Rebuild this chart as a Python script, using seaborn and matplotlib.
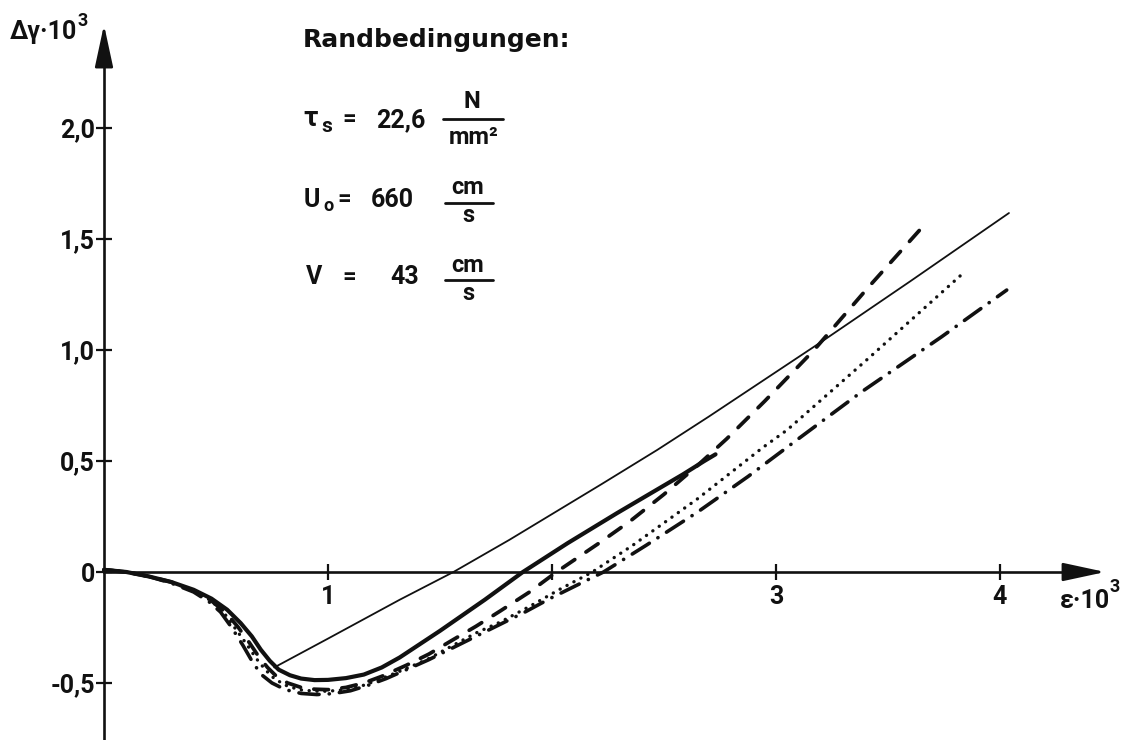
import numpy as np
import pandas as pd
import matplotlib
matplotlib.use("Agg")
import matplotlib.pyplot as plt
from matplotlib.lines import Line2D
import seaborn as sns

# strain eps*10^3 and shear change dgamma*10^3 for each computed variant
eps_thin = [0.76, 1.00, 1.32, 1.56, 1.81, 2.22, 2.47, 2.70, 3.20, 3.60, 4.04]
dg_thin = [-0.43, -0.30, -0.125, 0.0, 0.145, 0.395, 0.55, 0.70, 1.035, 1.31, 1.617]

eps_solid = [0.0, 0.10, 0.20, 0.30, 0.40, 0.48, 0.55, 0.61, 0.66, 0.70, 0.74,
             0.78, 0.83, 0.88, 0.94, 1.00, 1.08, 1.16, 1.24, 1.32, 1.41, 1.50,
             1.60, 1.70, 1.87, 2.07, 2.29, 2.45, 2.585, 2.68, 2.73]
dg_solid = [0.01, 0.0, -0.02, -0.045, -0.08, -0.12, -0.17, -0.23, -0.29, -0.35,
            -0.40, -0.44, -0.465, -0.48, -0.487, -0.486, -0.478, -0.462, -0.43,
            -0.385, -0.325, -0.265, -0.195, -0.125, 0.0, 0.13, 0.265, 0.36,
            0.44, 0.50, 0.53]

eps_dash = [0.0, 0.10, 0.20, 0.30, 0.40, 0.48, 0.55, 0.60, 0.65, 0.69, 0.73,
            0.77, 0.82, 0.88, 0.94, 1.00, 1.08, 1.16, 1.24, 1.35, 1.45, 1.55,
            1.66, 1.77, 1.90, 2.02, 2.21, 2.35, 2.50, 2.65, 2.78, 2.95, 3.17,
            3.41, 3.65]
dg_dash = [0.01, 0.0, -0.02, -0.045, -0.085, -0.13, -0.19, -0.25, -0.32, -0.38,
           -0.43, -0.47, -0.50, -0.52, -0.528, -0.53, -0.52, -0.50, -0.47,
           -0.42, -0.37, -0.31, -0.245, -0.175, -0.09, 0.0, 0.13, 0.23, 0.35,
           0.48, 0.60, 0.77, 1.00, 1.28, 1.55]

eps_dot = [0.0, 0.10, 0.20, 0.30, 0.40, 0.48, 0.54, 0.59, 0.64, 0.68, 0.72,
           0.76, 0.81, 0.87, 0.94, 1.00, 1.08, 1.16, 1.24, 1.35, 1.45, 1.55,
           1.66, 1.77, 1.90, 2.04, 2.18, 2.36, 2.65, 2.94, 3.05, 3.41, 3.84]
dg_dot = [0.01, 0.0, -0.02, -0.045, -0.085, -0.13, -0.19, -0.26, -0.33, -0.39,
          -0.44, -0.48, -0.51, -0.53, -0.537, -0.537, -0.53, -0.51, -0.48,
          -0.435, -0.39, -0.335, -0.275, -0.225, -0.155, -0.075, 0.0, 0.12,
          0.33, 0.56, 0.64, 0.96, 1.35]

eps_dashdot = [0.0, 0.10, 0.20, 0.30, 0.40, 0.47, 0.52, 0.57, 0.62, 0.66, 0.70,
               0.75, 0.81, 0.88, 0.95, 1.02, 1.10, 1.18, 1.26, 1.35, 1.45, 1.55,
               1.66, 1.77, 1.88, 1.99, 2.11, 2.23, 2.42, 2.65, 2.875, 3.10,
               3.38, 3.74, 4.03]
dg_dashdot = [0.01, 0.0, -0.02, -0.05, -0.09, -0.135, -0.18, -0.25, -0.33,
              -0.40, -0.46, -0.50, -0.53, -0.547, -0.552, -0.548, -0.535, -0.51,
              -0.48, -0.44, -0.395, -0.345, -0.29, -0.235, -0.18, -0.12, -0.06,
              0.0, 0.12, 0.27, 0.43, 0.60, 0.81, 1.06, 1.27]

x_ticks = [1, 2, 3, 4]
x_tick_labels = ["1", "", "3", "4"]
y_ticks = [-0.5, 0.0, 0.5, 1.0, 1.5, 2.0]
y_tick_labels = ["-0,5", "0", "0,5", "1,0", "1,5", "2,0"]

sns.set_style("white")
plt.rcParams["font.family"] = ["Roboto", "DejaVu Sans"]
plt.rcParams["font.weight"] = "bold"

W, H = 1132, 740
fig = plt.figure(figsize=(W / 100, H / 100), dpi=100)
fig.patch.set_facecolor("white")
ax = fig.add_axes([0, 0, 1, 1])
ax.set_facecolor("white")

X0, Y0, SX, SY = 104, 572, 224, 222
ax.set_xlim(-X0 / SX, (W - X0) / SX)
ax.set_ylim((Y0 - H) / SY, Y0 / SY)

INK = "#111111"

def draw(xs, ys, lw, ls):
    df = pd.DataFrame({"eps": xs, "dg": ys})
    sns.lineplot(data=df, x="eps", y="dg", ax=ax, color=INK, lw=lw,
                 linestyle=ls, estimator=None, sort=False,
                 dash_capstyle="round", solid_capstyle="round",
                 solid_joinstyle="round", dash_joinstyle="round")

draw(eps_thin, dg_thin, 1.3, "-")
draw(eps_dashdot, dg_dashdot, 2.6, (0, (5.6, 2.8, 0.05, 2.8)))
draw(eps_dot, dg_dot, 2.4, (0, (0.05, 2.3)))
draw(eps_dash, dg_dash, 2.7, (0, (3.9, 3.6)))
draw(eps_solid, dg_solid, 3.0, "-")

ax.set_xlabel("")
ax.set_ylabel("")

# axes through the origin with arrow heads
for s in ["top", "right"]:
    ax.spines[s].set_visible(False)
ax.spines["left"].set_position(("data", 0))
ax.spines["bottom"].set_position(("data", 0))
ax.spines["left"].set_bounds((Y0 - H) / SY, 2.36)
ax.spines["bottom"].set_bounds(0, 4.36)
for s in ["left", "bottom"]:
    ax.spines[s].set_linewidth(1.9)
    ax.spines[s].set_color(INK)

arrow = dict(arrowstyle="-|>,head_length=1.3,head_width=0.28",
             color=INK, lw=1.9, mutation_scale=20, shrinkA=0, shrinkB=0)
ax.annotate("", xy=(0, 2.465), xytext=(0, 2.30), arrowprops=arrow)
ax.annotate("", xy=(4.47, 0), xytext=(4.30, 0), arrowprops=arrow)

ax.set_xticks(x_ticks)
ax.set_xticklabels(x_tick_labels)
ax.set_yticks(y_ticks)
ax.set_yticklabels(y_tick_labels)
ax.tick_params(axis="both", direction="inout", length=11, width=1.6,
               color=INK, labelcolor=INK, labelsize=18,
               bottom=True, left=True, top=False, right=False)
ax.tick_params(axis="x", pad=4)
ax.tick_params(axis="y", pad=1)
for lab in ax.get_xticklabels() + ax.get_yticklabels():
    lab.set_fontweight("bold")

def ftxt(x, y, s, size=17, ha="left", va="center", **kw):
    fig.text(x / W, 1 - y / H, s, fontsize=size, ha=ha, va=va,
             fontweight="bold", color=INK, **kw)

def fbar(x1, x2, y):
    fig.add_artist(Line2D([x1 / W, x2 / W], [1 - y / H, 1 - y / H],
                          color=INK, lw=2.0, transform=fig.transFigure))

# axis titles
ftxt(10, 32, "Δγ·10", size=18)
ftxt(77, 21, "3", size=13)
ftxt(1060, 601, "ε·10", size=18)
ftxt(1110, 587, "3", size=13)

# boundary conditions
ftxt(303, 40, "Randbedingungen:", size=18, family=["DejaVu Sans"])

ftxt(303, 118, "τ", size=20)
ftxt(321, 127, "s", size=15)
ftxt(342, 120, "=", size=17)
ftxt(376, 120, "22,6", size=18)
ftxt(472, 102, "N", size=17, ha="center")
fbar(443, 503, 119)
ftxt(474, 137, "mm²", size=17, ha="center")

ftxt(304, 200, "U", size=18)
ftxt(323, 206, "o", size=13)
ftxt(337, 200, "=", size=17)
ftxt(371, 200, "660", size=18)
ftxt(468, 188, "cm", size=17, ha="center")
fbar(445, 493, 203)
ftxt(468, 216, "s", size=17, ha="center")

ftxt(306, 277, "V", size=18)
ftxt(342, 277, "=", size=17)
ftxt(390, 277, "43", size=18)
ftxt(468, 265, "cm", size=17, ha="center")
fbar(445, 493, 280)
ftxt(468, 293, "s", size=17, ha="center")

fig.savefig("out.png", dpi=100, facecolor="white")
